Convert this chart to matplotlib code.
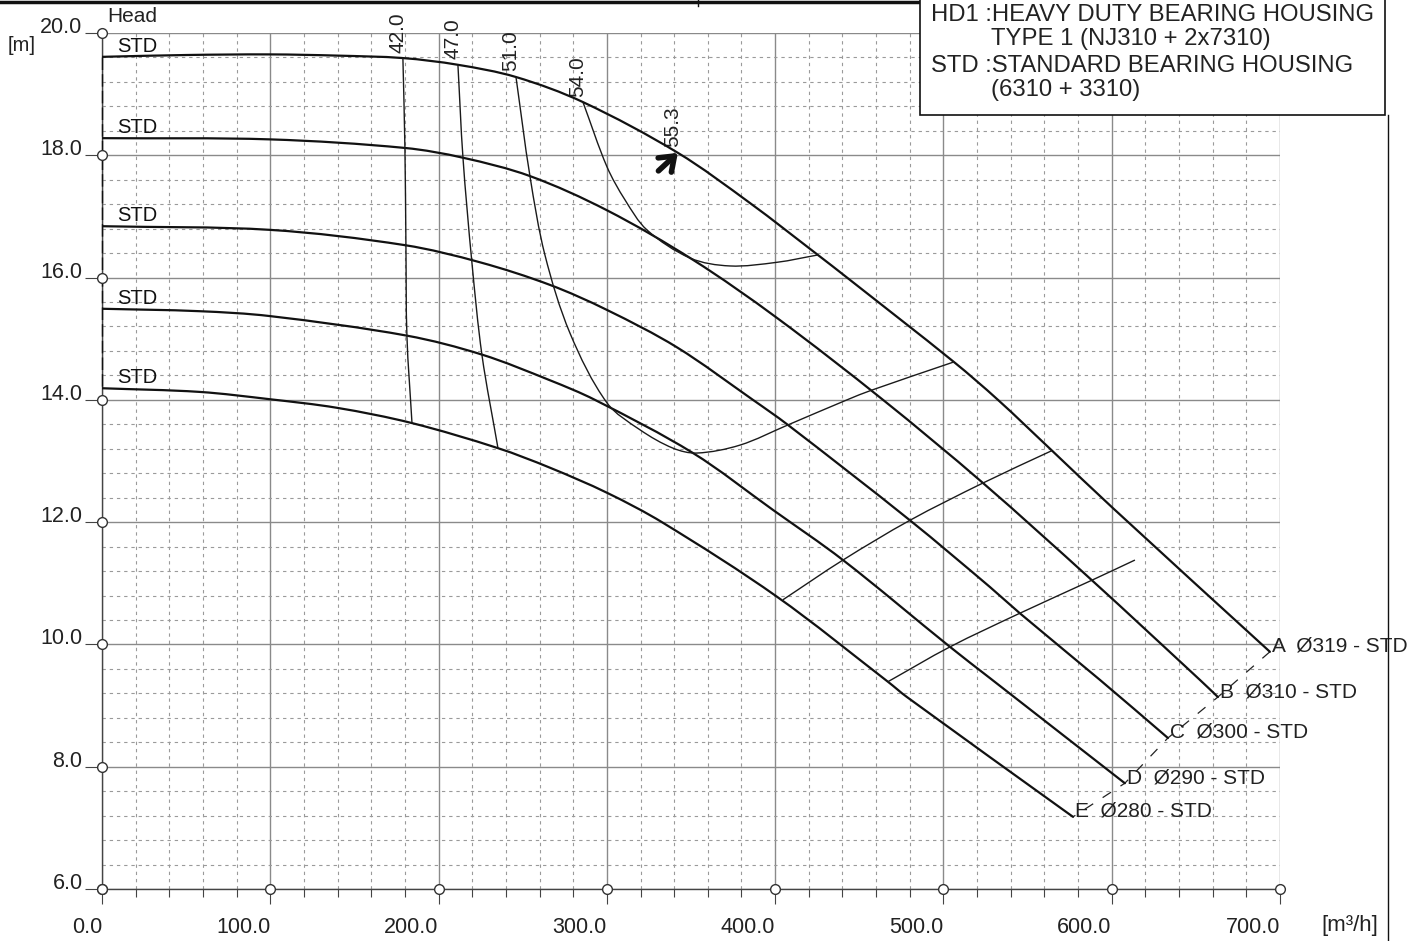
import numpy as np
import matplotlib
matplotlib.use('Agg')
import matplotlib.pyplot as plt
from matplotlib.ticker import MultipleLocator
from matplotlib.lines import Line2D
from matplotlib.patches import Rectangle, PathPatch
from matplotlib.path import Path

plt.rcParams['font.family'] = ['Liberation Sans', 'DejaVu Sans']

# ---------------- data ----------------
x_ticks = [0, 100, 200, 300, 400, 500, 600, 700]
x_tick_labels = ['0.0', '100.0', '200.0', '300.0', '400.0', '500.0', '600.0', '700.0']
y_ticks = [6, 8, 10, 12, 14, 16, 18, 20]
y_tick_labels = ['6.0', '8.0', '10.0', '12.0', '14.0', '16.0', '18.0', '20.0']

curve_letters = ['A', 'B', 'C', 'D', 'E']
curve_diams = [319, 310, 300, 290, 280]

Q_A = [0, 50, 100, 140, 178.8, 211.5, 246.0, 285.8, 342.2, 385.0, 425.4, 442.7, 506.2, 532.4, 564.5, 600.7, 694.0]
H_A = [19.61, 19.64, 19.65, 19.63, 19.59, 19.48, 19.28, 18.87, 18.04, 17.22, 16.37, 16.00, 14.62, 14.00, 13.17, 12.23, 9.88]

Q_B = [0, 100, 180, 214.5, 254.3, 300.1, 351.2, 401.1, 464.1, 523.5, 588.2, 652.4, 663.1]
H_B = [18.28, 18.26, 18.12, 17.96, 17.66, 17.10, 16.29, 15.34, 14.00, 12.64, 11.05, 9.42, 9.14]

Q_C = [0, 100, 180, 224.6, 266.2, 300.1, 341.6, 386.8, 407.6, 480.1, 527.6, 545.4, 593.0, 633.4]
H_C = [16.84, 16.78, 16.53, 16.25, 15.88, 15.47, 14.86, 14.00, 13.59, 12.03, 10.94, 10.51, 9.42, 8.47]

Q_D = [0, 58, 99.8, 181.2, 225.8, 266.2, 292.9, 351.2, 398.7, 440.3, 503.9, 527.6, 607.8]
H_D = [15.49, 15.45, 15.37, 15.05, 14.74, 14.32, 14.00, 13.13, 12.20, 11.38, 9.96, 9.45, 7.73]

Q_E = [0, 58, 99.8, 139.6, 184.2, 235.3, 266.2, 300.1, 333.3, 401.1, 467.0, 478.3, 577.0]
H_E = [14.19, 14.13, 14.01, 13.87, 13.62, 13.21, 12.89, 12.48, 11.99, 10.78, 9.39, 9.14, 7.18]

# iso-efficiency lines
eff42_left_Q = [178.8, 180.0, 180.6, 181.2, 184.2]
eff42_left_H = [19.59, 18.12, 16.53, 15.04, 13.62]
eff42_right_Q = [467.0, 503.9, 545.4, 588.2, 613.8]
eff42_right_H = [9.39, 9.96, 10.51, 11.05, 11.38]

eff47_left_Q = [211.5, 214.5, 219.8, 225.8, 235.3]
eff47_left_H = [19.48, 17.96, 16.25, 14.73, 13.21]
eff47_right_Q = [404.6, 440.3, 480.1, 523.5, 564.5]
eff47_right_H = [10.73, 11.38, 12.03, 12.64, 13.17]

eff51_Q = [246.0, 254.3, 263.2, 278.1, 300.1, 319.7, 339.3, 353.5, 379.1, 407.6, 442.7, 457.5, 506.2]
eff51_H = [19.28, 17.66, 16.37, 15.09, 13.95, 13.51, 13.21, 13.13, 13.26, 13.59, 14.00, 14.16, 14.62]

eff54_Q = [285.8, 300.1, 310.8, 323.8, 349.4, 373.1, 401.1, 425.4]
eff54_H = [18.87, 17.81, 17.27, 16.78, 16.32, 16.19, 16.25, 16.37]

eff_labels = ['42.0', '47.0', '51.0', '54.0']

bep_Q = 342.2
bep_H = 18.04
bep_label = '55.3'

legend_lines = ['HD1 :HEAVY DUTY BEARING HOUSING', 'TYPE 1 (NJ310 + 2x7310)',
                'STD :STANDARD BEARING HOUSING', '(6310 + 3310)']

# ---------------- figure ----------------
W, HP = 1426, 941
AX_W, AX_H = 1178, 856
fig = plt.figure(figsize=(W / 100, HP / 100), dpi=100)
ax = fig.add_axes([102 / W, 52 / HP, AX_W / W, AX_H / HP])
ax.set_xlim(0, 700)
ax.set_ylim(6, 20)

SX = AX_W / 700.0
SY = AX_H / 14.0


def smooth_path(q, h):
    """Cubic Bezier path passing through every read point (chord-length Hermite)."""
    P = np.column_stack([np.asarray(q, float) * SX, np.asarray(h, float) * SY])
    n = len(P)
    d = np.linalg.norm(np.diff(P, axis=0), axis=1)
    m = np.zeros_like(P)
    m[0] = (P[1] - P[0]) / d[0]
    m[-1] = (P[-1] - P[-2]) / d[-1]
    for i in range(1, n - 1):
        m[i] = (P[i + 1] - P[i - 1]) / (d[i - 1] + d[i])
    verts = [P[0]]
    codes = [Path.MOVETO]
    for i in range(n - 1):
        c1 = P[i] + m[i] * d[i] / 3.0
        c2 = P[i + 1] - m[i + 1] * d[i] / 3.0
        verts += [c1, c2, P[i + 1]]
        codes += [Path.CURVE4] * 3
    V = np.array(verts) / [SX, SY]
    return Path(V, codes)


ax.set_xticks(x_ticks)
ax.set_xticklabels(x_tick_labels)
ax.xaxis.set_minor_locator(MultipleLocator(20))
ax.set_yticks(y_ticks)
ax.set_yticklabels(y_tick_labels)
ax.yaxis.set_minor_locator(MultipleLocator(0.4))

ax.grid(which='major', color='#8a8a8a', lw=1.0, ls='-', zorder=0)
ax.grid(which='minor', color='#9a9a9a', lw=0.8, ls=(0, (3, 3.5)), zorder=0)
ax.set_axisbelow(True)

ax.tick_params(axis='x', which='major', direction='out', length=11, width=0.8,
               color='#444444', pad=9, labelsize=15.5, labelcolor='#222222')
ax.tick_params(axis='x', which='minor', direction='out', length=6, width=0.8, color='#444444')
ax.tick_params(axis='y', which='major', direction='out', length=12, width=0.8,
               color='#444444', pad=2, labelsize=15.5, labelcolor='#222222')
ax.tick_params(axis='y', which='minor', length=0)
for lab in ax.get_xticklabels():
    lab.set_ha('right')
for lab in ax.get_yticklabels():
    lab.set_va('baseline')

for s in ['top', 'right']:
    ax.spines[s].set_visible(False)
for s in ['left', 'bottom']:
    ax.spines[s].set_color('#444444')
    ax.spines[s].set_linewidth(1.0)

# circles at major ticks
ax.plot(x_ticks, [y_ticks[0]] * len(x_ticks), 'o', ms=7, mfc='white', mec='#333333',
        mew=1.0, clip_on=False, zorder=6)
ax.plot([x_ticks[0]] * len(y_ticks), y_ticks, 'o', ms=7, mfc='white', mec='#333333',
        mew=1.0, clip_on=False, zorder=6)

curves = [(Q_A, H_A), (Q_B, H_B), (Q_C, H_C), (Q_D, H_D), (Q_E, H_E)]
for (q, h), let, d in zip(curves, curve_letters, curve_diams):
    ax.add_patch(PathPatch(smooth_path(q, h), fill=False, edgecolor='#111111', lw=1.6,
                           zorder=4, joinstyle='round', capstyle='round'))
    ax.annotate('STD', (q[0], h[0]), xytext=(11, 3.5), textcoords='offset points',
                ha='left', va='baseline', fontsize=14.5, color='#111111', zorder=7)
    ax.annotate(f'{let}  Ø{d} - STD', (q[-1], h[-1]), xytext=(1.5, 0),
                textcoords='offset points', ha='left', va='baseline', fontsize=15,
                color='#222222', annotation_clip=False, zorder=7)

# dashed lines joining curve starts and curve ends
ax.plot([c[0][0] for c in curves], [c[1][0] for c in curves], color='#111111', lw=1.0,
        ls=(0, (9, 3)), zorder=5, clip_on=False)
ax.plot([c[0][-1] for c in curves], [c[1][-1] for c in curves], color='#222222', lw=0.9,
        ls=(0, (8, 9)), zorder=3)

isos = [(eff42_left_Q, eff42_left_H), (eff42_right_Q, eff42_right_H),
        (eff47_left_Q, eff47_left_H), (eff47_right_Q, eff47_right_H),
        (eff51_Q, eff51_H), (eff54_Q, eff54_H)]
for q, h in isos:
    ax.add_patch(PathPatch(smooth_path(q, h), fill=False, edgecolor='#1a1a1a', lw=1.0,
                           zorder=4))

label_curves = [(eff42_left_Q, eff42_left_H), (eff47_left_Q, eff47_left_H),
                (eff51_Q, eff51_H), (eff54_Q, eff54_H)]
for lab, (q, h) in zip(eff_labels, label_curves):
    ax.annotate(lab, (q[0], h[0]), xytext=(3, 4), textcoords='offset points', rotation=90,
                ha='right', va='bottom', fontsize=15, color='#222222', annotation_clip=False)

ax.annotate(bep_label, (bep_Q, bep_H), xytext=(3, 4), textcoords='offset points', rotation=90,
            ha='right', va='bottom', fontsize=15, color='#222222', annotation_clip=False)
ax.annotate('', xy=(bep_Q, bep_H), xytext=(-14, -13), textcoords='offset points',
            arrowprops=dict(arrowstyle='->,head_length=0.95,head_width=0.7', lw=4.0,
                            mutation_scale=10, color='#111111', shrinkA=0, shrinkB=0),
            zorder=8)

# axis captions
fig.text(107 / W, 1 - 22 / HP, 'Head', ha='left', va='baseline', fontsize=15, color='#222222')
fig.text(8 / W, 1 - 51 / HP, '[m]', ha='left', va='baseline', fontsize=14.5, color='#222222')
fig.text(1321 / W, 1 - 931 / HP, '[m³/h]', ha='left', va='baseline', fontsize=16, color='#222222')

# legend box
fig.add_artist(Rectangle((920 / W, 1 - 115 / HP), (1385 - 920) / W, 140 / HP,
                         transform=fig.transFigure, facecolor='white', edgecolor='#111111',
                         lw=1.2, zorder=10))
legend_pos = [(931, 21), (991, 45), (931, 72), (991, 96)]
for txt, (px, py) in zip(legend_lines, legend_pos):
    fig.text(px / W, 1 - py / HP, txt, ha='left', va='baseline', fontsize=17.2,
             color='#222222', zorder=11)

# frame lines
fig.add_artist(Line2D([0, 920 / W], [1 - 2 / HP, 1 - 2 / HP], transform=fig.transFigure,
                      color='#111111', lw=2.5))
fig.add_artist(Line2D([1388 / W, 1388 / W], [0, 1 - 115 / HP], transform=fig.transFigure,
                      color='#111111', lw=1.0))
fig.add_artist(Line2D([698 / W, 698 / W], [1, 1 - 6 / HP], transform=fig.transFigure,
                      color='#111111', lw=1.0))

fig.savefig('out.png', dpi=100)
